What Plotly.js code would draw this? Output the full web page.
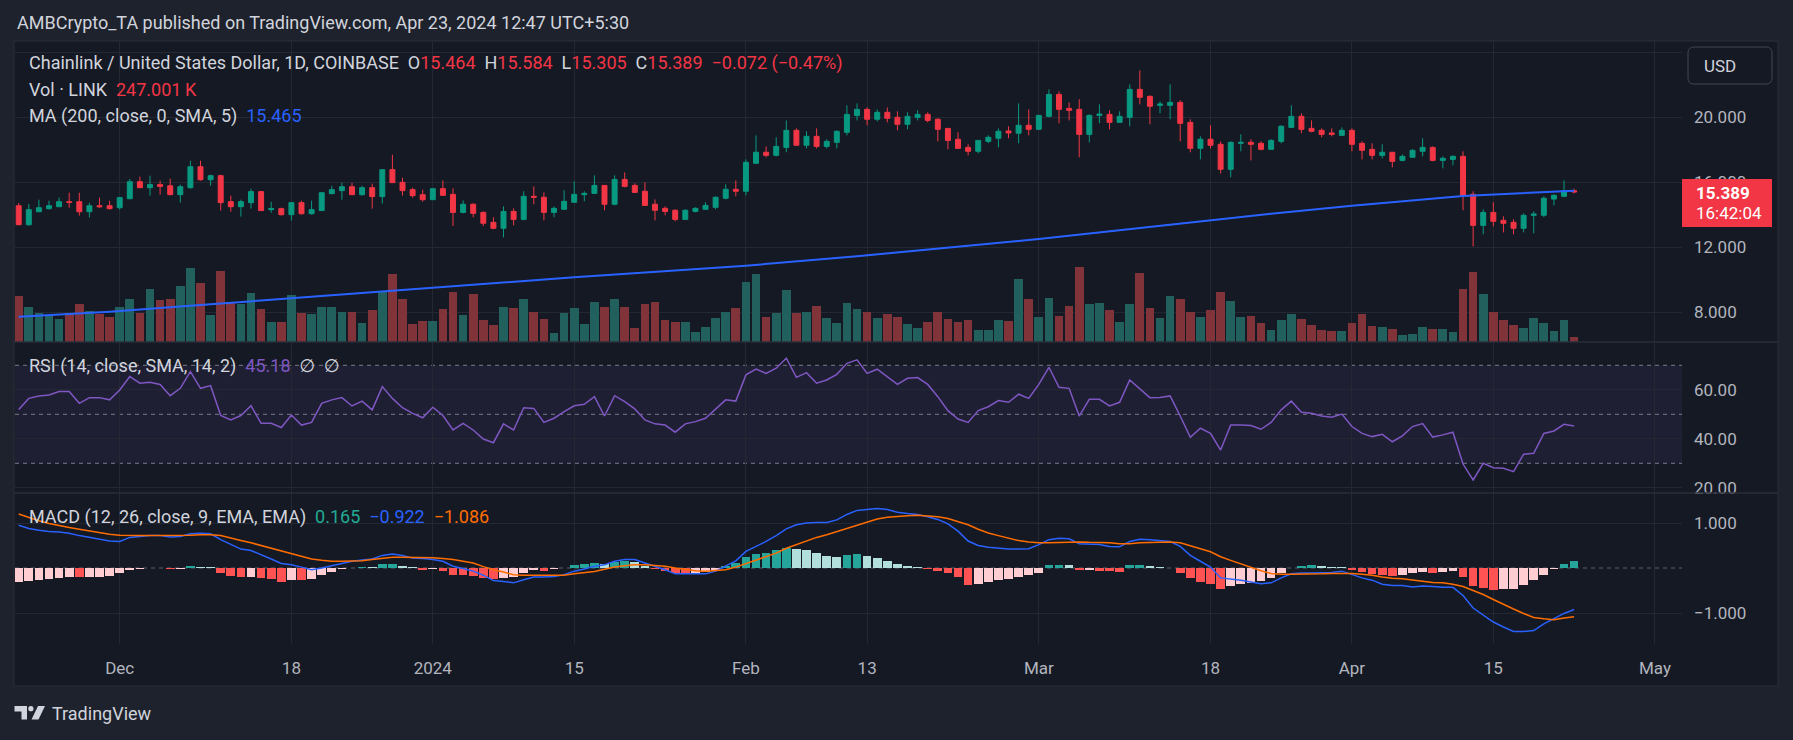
<!DOCTYPE html>
<html>
<head>
<meta charset="utf-8">
<script src="https://cdn.plot.ly/plotly-3.0.1.min.js"></script>
<style>
html,body{margin:0;padding:0;background:#1e222d;}
#chart{width:1793px;height:740px;}
</style>
</head>
<body>
<div id="chart"></div>
<script>
// ---------------- DATA ----------------
const firstDay = '2023-11-21';   // first daily candle
const open = [14.54,13.37,14.17,14.36,14.48,14.79,14.79,14.17,14.54,14.54,
14.42,14.97,16.02,15.65,15.84,15.77,15.22,15.65,16.94,16.14,
16.39,14.79,14.48,14.73,15.41,14.30,14.36,13.99,14.73,14.05,
14.24,15.28,15.47,15.71,15.22,15.65,15.10,16.76,15.98,15.53,
15.22,14.91,15.59,15.24,14.13,14.63,14.13,13.52,13.15,14.19,
13.70,15.12,15.06,14.13,14.32,14.75,15.22,15.30,15.79,14.63,
16.16,15.79,15.43,14.63,14.38,14.26,13.70,14.19,14.32,14.44,
15.00,15.55,15.43,17.15,17.83,17.64,18.13,19.18,18.26,18.81,
18.19,18.44,19.06,20.10,20.47,19.86,20.29,19.98,19.55,19.98,
20.16,19.86,19.30,18.63,18.13,17.89,18.50,18.69,19.14,19.00,
19.49,19.24,20.04,21.39,20.53,20.47,18.93,20.10,20.16,19.67,
19.98,21.70,21.27,20.72,20.72,20.90,19.67,18.07,18.63,18.32,
16.78,18.38,18.44,18.38,18.01,18.50,19.36,20.04,19.30,19.18,
19.02,18.87,19.18,18.38,18.01,17.64,17.83,17.33,17.52,17.89,
18.13,17.33,17.39,17.58,15.24,13.33,14.13,13.64,13.52,13.15,
13.95,13.95,14.95,15.12,15.464];
const high = [14.71,14.65,14.91,14.85,15.04,15.34,15.34,14.73,15.04,14.85,
15.04,16.18,16.33,16.39,16.08,16.21,15.84,17.31,17.31,16.45,
16.45,15.16,14.91,15.59,15.41,14.79,14.42,14.73,14.85,14.85,
15.34,15.77,15.96,15.96,15.77,15.90,16.76,17.68,16.27,15.65,
15.53,15.59,16.10,15.61,14.87,14.69,14.19,13.83,14.50,14.38,
15.43,15.73,15.36,14.50,15.49,16.04,15.43,16.41,15.79,16.41,
16.59,15.92,15.98,14.93,14.50,14.32,14.32,14.44,14.75,15.12,
15.86,16.10,17.39,18.87,18.19,18.75,19.79,19.30,19.12,19.30,
18.63,19.18,20.72,20.84,20.59,20.47,20.59,20.35,20.29,20.41,
20.29,19.92,19.30,19.06,18.32,18.56,18.87,19.30,19.43,20.84,
20.47,20.10,21.70,21.58,20.90,21.09,20.16,20.78,20.41,20.35,
22.01,22.87,21.33,20.96,22.01,21.03,19.86,18.81,19.49,18.50,
18.50,18.93,18.63,18.50,18.63,19.49,20.72,20.23,19.79,19.30,
19.30,19.36,19.30,18.50,18.38,18.32,17.83,17.70,18.01,18.69,
18.19,17.58,17.64,17.89,15.43,14.32,14.75,13.89,13.70,14.07,
14.19,15.12,15.24,16.10,15.584];
const low = [13.35,13.31,14.17,14.30,14.48,14.42,13.93,13.81,14.42,14.30,
14.30,14.97,15.65,15.16,15.22,15.22,14.73,15.59,16.08,15.77,
14.24,14.17,13.87,14.36,14.24,14.11,13.93,13.62,13.99,13.99,
14.24,15.28,14.91,15.22,15.16,14.36,14.67,15.96,15.16,15.04,
14.79,14.91,15.18,13.29,14.07,13.83,13.29,13.09,12.59,13.33,
13.64,14.63,13.64,13.83,14.32,14.75,14.81,15.30,14.26,14.57,
15.67,15.36,14.56,13.64,13.95,13.58,13.70,14.13,14.32,14.32,
14.93,15.12,15.18,17.15,17.52,17.58,17.83,18.26,18.07,18.07,
18.07,18.07,18.87,19.79,19.49,19.73,19.67,19.18,19.24,19.79,
19.67,18.50,18.01,18.07,17.64,17.76,18.38,18.13,18.69,18.38,
18.87,19.24,19.98,19.61,19.79,17.52,18.44,19.61,19.24,19.67,
19.43,20.78,19.55,20.23,19.86,18.50,17.83,17.39,18.07,16.53,
16.29,17.89,17.33,17.95,18.01,18.38,19.36,19.00,19.06,18.75,
18.81,18.87,17.89,17.39,17.39,17.46,16.90,17.27,17.52,17.58,
17.27,16.84,17.03,14.26,12.04,12.78,13.27,12.90,12.78,12.90,
12.84,13.83,14.56,15.06,15.305];
const close = [13.37,14.30,14.42,14.54,14.79,14.75,14.17,14.54,14.48,14.36,
15.04,16.02,15.65,15.84,15.73,15.22,15.71,16.94,16.14,16.39,
14.73,14.48,14.79,15.41,14.24,14.36,13.99,14.73,14.05,14.30,
15.34,15.53,15.71,15.22,15.65,15.10,16.76,15.96,15.47,15.16,
14.91,15.59,15.18,14.13,14.63,14.07,13.46,13.15,14.19,13.70,
15.12,15.06,14.13,14.38,14.81,15.24,15.30,15.79,14.63,16.16,
15.73,15.36,14.56,14.26,14.19,13.70,14.26,14.38,14.56,15.06,
15.55,15.43,17.21,17.83,17.64,18.19,19.18,18.26,18.81,18.19,
18.50,19.12,20.16,20.47,19.86,20.29,19.92,19.55,20.04,20.16,
19.79,19.24,18.56,18.07,17.89,18.56,18.75,19.12,19.02,19.49,
19.24,20.10,21.39,20.47,20.41,18.93,20.10,20.18,19.67,20.04,
21.70,21.21,20.66,20.80,20.90,19.61,18.07,18.63,18.26,16.78,
18.44,18.44,18.32,18.01,18.56,19.43,20.04,19.24,19.12,18.93,
18.93,19.18,18.32,17.95,17.64,17.83,17.27,17.58,17.95,18.13,
17.33,17.46,17.58,15.18,13.33,14.13,13.58,13.46,13.15,13.95,
14.03,15.00,15.18,15.461,15.389];
const volumeK = [2277,1733,1436,1337,1139,1436,1881,1535,1386,1238,
1733,2129,1436,2624,2079,2129,2772,3663,2921,1337,
3515,1980,1881,2426,1634,990,990,2327,1436,1386,
1733,1733,1485,1485,941,1584,2475,3366,2129,891,
1040,1040,1634,2475,1337,2376,1089,842,1733,1683,
2129,1485,1139,446,1436,1683,891,1980,1733,2129,
1733,693,1881,1980,1089,990,990,495,743,1188,
1485,1683,2970,3366,1238,1436,2574,1436,1485,1782,
1188,941,1931,1634,1485,1188,1386,1238,891,693,
990,1485,1139,990,1089,594,594,1089,1040,3119,
2129,1238,2178,1287,1782,3713,1881,1931,1584,990,
1881,3416,1683,1188,2277,2129,1485,1238,1584,2475,
2030,1238,1287,941,594,1089,1386,1139,842,594,
545,545,941,1386,792,743,644,347,396,743,
644,644,495,2624,3465,2376,1485,1089,842,693,
1188,941,545,1089,247.001];
// MA(200) line, read at a few dates along the line
const maDates = ['2023-11-21','2023-11-30','2023-12-10','2023-12-20','2023-12-28','2024-01-01','2024-01-15','2024-02-01','2024-02-12','2024-03-01','2024-03-18','2024-03-24','2024-04-01','2024-04-12','2024-04-23'];
const maValues = [7.71,8.02,8.47,8.94,9.29,9.50,10.14,10.85,11.43,12.49,13.64,14.04,14.54,15.14,15.465];
const rsi = [52.0,56.5,57.5,57.9,59.3,59.3,54.5,56.8,56.8,55.9,
59.9,65.4,62.7,63.1,62.2,57.6,60.6,67.4,60.6,61.7,
49.5,47.7,49.5,53.5,46.3,46.3,44.6,49.7,45.6,46.7,
54.5,55.9,56.8,53.4,55.4,51.8,61.3,56.5,52.7,50.4,
48.6,52.9,49.5,43.6,46.3,43.6,39.9,38.4,46.1,43.6,
52.7,52.4,46.7,48.4,51.1,53.5,54.1,57.2,49.3,57.6,
55.2,52.2,47.7,46.1,45.6,42.7,46.1,47.0,48.4,52.2,
55.9,55.4,66.1,68.5,66.7,68.8,72.9,65.1,67.0,62.7,
64.0,66.3,70.8,72.2,66.7,68.4,65.4,62.2,64.7,65.0,
62.2,57.2,51.5,48.1,46.7,51.5,53.1,55.6,54.9,58.2,
56.5,62.2,69.2,61.0,60.6,49.3,56.1,56.1,53.4,54.9,
64.0,60.3,56.8,56.9,57.5,49.3,40.6,44.3,42.2,35.4,
45.6,45.6,45.4,43.9,46.7,51.8,55.4,50.8,50.4,49.3,
48.8,50.1,45.0,42.2,40.9,41.8,38.8,41.2,45.0,46.2,
40.7,41.6,42.7,29.7,23.2,30.0,28.2,28.0,26.6,33.7,
34.1,42.2,43.2,45.9,45.18];
const macd = [0.95,0.88,0.84,0.81,0.80,0.77,0.72,0.68,0.64,0.60,
0.59,0.68,0.70,0.72,0.72,0.69,0.70,0.76,0.77,0.76,
0.63,0.52,0.42,0.39,0.30,0.20,0.10,0.07,0.02,-0.04,
0.00,0.05,0.11,0.15,0.18,0.20,0.28,0.31,0.28,0.22,
0.21,0.19,0.15,0.04,-0.01,-0.07,-0.16,-0.28,-0.30,-0.33,
-0.26,-0.20,-0.20,-0.19,-0.15,-0.07,-0.02,0.04,0.07,0.15,
0.19,0.19,0.11,0.04,-0.04,-0.13,-0.13,-0.13,-0.13,-0.07,
0.04,0.16,0.37,0.48,0.59,0.72,0.87,0.96,1.00,1.01,
1.01,1.07,1.19,1.28,1.30,1.32,1.30,1.24,1.21,1.19,
1.14,1.08,0.98,0.82,0.60,0.50,0.46,0.44,0.42,0.42,
0.43,0.52,0.63,0.66,0.65,0.54,0.53,0.52,0.48,0.47,
0.59,0.64,0.63,0.61,0.59,0.48,0.28,0.15,0.02,-0.22,
-0.24,-0.27,-0.31,-0.35,-0.33,-0.22,-0.13,-0.11,-0.11,-0.11,
-0.10,-0.07,-0.15,-0.22,-0.27,-0.36,-0.39,-0.39,-0.42,-0.40,
-0.41,-0.43,-0.43,-0.61,-0.89,-1.04,-1.20,-1.31,-1.41,-1.41,
-1.39,-1.24,-1.13,-1.01,-0.922];
const signal = [1.20,1.12,1.05,0.99,0.94,0.90,0.86,0.82,0.78,0.75,
0.73,0.72,0.72,0.72,0.72,0.72,0.72,0.73,0.74,0.74,
0.72,0.66,0.61,0.56,0.50,0.44,0.38,0.31,0.25,0.20,
0.17,0.15,0.15,0.15,0.16,0.19,0.21,0.24,0.24,0.24,
0.24,0.23,0.21,0.19,0.15,0.11,0.03,-0.04,-0.09,-0.15,
-0.16,-0.16,-0.17,-0.17,-0.16,-0.13,-0.11,-0.08,-0.03,0.02,
0.05,0.07,0.07,0.06,0.04,0.00,-0.03,-0.06,-0.07,-0.06,
-0.04,0.02,0.10,0.17,0.26,0.33,0.44,0.52,0.60,0.68,
0.74,0.81,0.88,0.96,1.03,1.09,1.13,1.15,1.16,1.17,
1.16,1.14,1.10,1.03,0.96,0.86,0.78,0.72,0.66,0.61,
0.58,0.56,0.56,0.57,0.58,0.58,0.57,0.57,0.56,0.54,
0.54,0.56,0.57,0.58,0.58,0.56,0.50,0.43,0.36,0.25,
0.17,0.09,0.02,-0.06,-0.12,-0.14,-0.14,-0.14,-0.13,-0.13,
-0.12,-0.12,-0.12,-0.14,-0.16,-0.20,-0.23,-0.24,-0.27,-0.30,
-0.32,-0.33,-0.36,-0.41,-0.50,-0.59,-0.70,-0.81,-0.91,-1.01,
-1.10,-1.13,-1.15,-1.11,-1.086];
const histogram = [-0.30,-0.28,-0.26,-0.24,-0.22,-0.20,-0.21,-0.20,-0.19,-0.17,
-0.11,-0.05,-0.03,-0.01,-0.01,-0.03,-0.03,0.05,0.03,0.03,
-0.10,-0.17,-0.20,-0.19,-0.22,-0.25,-0.30,-0.26,-0.27,-0.25,
-0.16,-0.09,-0.03,0.00,0.02,0.02,0.09,0.10,0.05,0.02,
-0.04,-0.03,-0.06,-0.15,-0.16,-0.18,-0.22,-0.25,-0.22,-0.19,
-0.12,-0.05,-0.06,-0.02,0.01,0.06,0.09,0.12,0.10,0.14,
0.15,0.13,0.05,-0.03,-0.07,-0.11,-0.12,-0.11,-0.09,-0.04,
0.05,0.11,0.24,0.31,0.34,0.39,0.45,0.43,0.40,0.33,
0.27,0.25,0.30,0.32,0.26,0.22,0.16,0.09,0.05,0.02,
-0.02,-0.06,-0.12,-0.21,-0.37,-0.36,-0.32,-0.27,-0.24,-0.19,
-0.16,-0.10,0.06,0.07,0.06,-0.05,-0.04,-0.06,-0.07,-0.08,
0.06,0.07,0.05,0.03,0.01,-0.10,-0.22,-0.30,-0.36,-0.46,
-0.41,-0.36,-0.33,-0.28,-0.22,-0.11,-0.01,0.05,0.06,0.04,
0.03,0.02,-0.04,-0.09,-0.13,-0.16,-0.17,-0.16,-0.12,-0.08,
-0.10,-0.09,-0.07,-0.21,-0.41,-0.44,-0.48,-0.47,-0.46,-0.37,
-0.27,-0.15,-0.02,0.09,0.165];
const timeTickVals = ['2023-12-01','2023-12-18','2024-01-01','2024-01-15','2024-02-01','2024-02-13','2024-03-01','2024-03-18','2024-04-01','2024-04-15','2024-05-01'];
const timeTickText = ['Dec','18','2024','15','Feb','13','Mar','18','Apr','15','May'];
const priceTickVals = [8,12,16,20,24];
const priceTickText = ['8.000','12.000','16.000','20.000',''];
const rsiTickVals = [20,40,60];
const rsiTickText = ['20.00','40.00','60.00'];
const macdTickVals = [-1,1];
const macdTickText = ['\u22121.000','1.000'];
const rsiLevels = [70,50,30];
const lastPriceText = '15.389';
const countdownText = '16:42:04';

// ---------------- BUILD ----------------
const DAY = 86400000;
const t0 = Date.parse(firstDay + 'T00:00:00Z');
const dates = open.map((_, i) => new Date(t0 + i * DAY).toISOString().slice(0, 10));

const W = 1793, H = 740, PL = 15, PR = 1682, PT = 41, PB = 644;
const px = x => (x - PL) / (PR - PL);
const py = y => (PB - y) / (PB - PT);

const FONT = 'Roboto, "Open Sans", "DejaVu Sans", sans-serif';
const TXT = '#d1d4dc', AX = '#b2b5be', GRID = '#242832', BORDER = '#2a2e39';
const UP = '#089981', DN = '#f23645';

const volColors = close.map((c, i) => c >= open[i] ? '#22605e' : '#80343a');
const histColors = histogram.map((v, i) => {
  const p = i > 0 ? histogram[i - 1] : v;
  if (v >= 0) return v > p ? '#26a69a' : '#b2dfdb';
  return v < p ? '#ff5252' : '#ffcdd2';
});

const traces = [
  { type: 'bar', x: dates, y: volumeK, xaxis: 'x', yaxis: 'y', marker: { color: volColors, line: { width: 0 } },
    width: 0.86 * DAY, hoverinfo: 'skip' },
  { type: 'scatter', mode: 'lines', x: maDates, y: maValues, xaxis: 'x', yaxis: 'y2',
    line: { color: '#2962ff', width: 2 }, hoverinfo: 'skip' },
  { type: 'candlestick', x: dates, open: open, high: high, low: low, close: close, xaxis: 'x', yaxis: 'y2',
    increasing: { line: { color: UP, width: 1 }, fillcolor: UP },
    decreasing: { line: { color: DN, width: 1 }, fillcolor: DN },
    whiskerwidth: 0, hoverinfo: 'skip' },
  { type: 'scatter', mode: 'lines', x: dates, y: rsi, xaxis: 'x', yaxis: 'y3',
    line: { color: '#7e57c2', width: 1.5 }, hoverinfo: 'skip' },
  { type: 'bar', x: dates, y: histogram, xaxis: 'x', yaxis: 'y4', marker: { color: histColors, line: { width: 0 } },
    width: 0.86 * DAY, hoverinfo: 'skip' },
  { type: 'scatter', mode: 'lines', x: dates, y: macd, xaxis: 'x', yaxis: 'y4',
    line: { color: '#2962ff', width: 1.5 }, hoverinfo: 'skip' },
  { type: 'scatter', mode: 'lines', x: dates, y: signal, xaxis: 'x', yaxis: 'y4',
    line: { color: '#ff6d00', width: 1.5 }, hoverinfo: 'skip' }
];

function rr(x0, y0, x1, y1, r) {
  const P = (x, y) => px(x) + ',' + py(y);
  return 'M' + P(x0 + r, y0) + ' L' + P(x1 - r, y0) + ' Q' + P(x1, y0) + ' ' + P(x1, y0 + r) +
    ' L' + P(x1, y1 - r) + ' Q' + P(x1, y1) + ' ' + P(x1 - r, y1) + ' L' + P(x0 + r, y1) +
    ' Q' + P(x0, y1) + ' ' + P(x0, y1 - r) + ' L' + P(x0, y0 + r) + ' Q' + P(x0, y0) + ' ' + P(x0 + r, y0) + ' Z';
}
function poly(pts) {
  return 'M' + pts.map(p => px(p[0]) + ',' + py(p[1])).join(' L') + ' Z';
}

const shapes = [
  // chart frame
  { type: 'rect', xref: 'paper', yref: 'paper', x0: px(14), x1: px(1778), y0: py(686), y1: py(41),
    fillcolor: '#151924', line: { color: BORDER, width: 1 }, layer: 'below' },
  // RSI band
  { type: 'rect', xref: 'paper', yref: 'y3', x0: 0, x1: 1, y0: 30, y1: 70,
    fillcolor: 'rgba(126,87,194,0.10)', line: { width: 0 }, layer: 'below' },
  // pane separators
  { type: 'line', xref: 'paper', yref: 'paper', x0: px(14), x1: px(1778), y0: py(342), y1: py(342),
    line: { color: BORDER, width: 1.5 }, layer: 'above' },
  { type: 'line', xref: 'paper', yref: 'paper', x0: px(14), x1: px(1778), y0: py(493), y1: py(493),
    line: { color: BORDER, width: 1.5 }, layer: 'above' },
  // MACD zero
  { type: 'line', xref: 'paper', yref: 'y4', x0: 0, x1: 1, y0: 0, y1: 0,
    line: { color: '#5d606b', width: 1, dash: '4px,4px' }, layer: 'below' },
  // USD box
  { type: 'path', xref: 'paper', yref: 'paper', path: rr(1688, 47, 1772, 84, 6),
    fillcolor: '#151924', line: { color: '#434651', width: 1 }, layer: 'above' },
  // last price label box
  { type: 'rect', xref: 'paper', yref: 'paper', x0: px(1682), x1: px(1772), y0: py(227), y1: py(179),
    fillcolor: '#f23645', line: { width: 0 }, layer: 'above' },
  // TradingView logo
  { type: 'path', xref: 'paper', yref: 'paper', path: poly([[14.5,706],[27,706],[27,719.5],[21.5,719.5],[21.5,711.5],[14.5,711.5]]),
    fillcolor: '#d1d4dc', line: { width: 0 }, layer: 'above' },
  { type: 'circle', xref: 'paper', yref: 'paper', x0: px(28.3), x1: px(33.5), y0: py(711.3), y1: py(706),
    fillcolor: '#d1d4dc', line: { width: 0 }, layer: 'above' },
  { type: 'path', xref: 'paper', yref: 'paper', path: poly([[38,706],[45,706],[38.5,719.5],[31.5,719.5]]),
    fillcolor: '#d1d4dc', line: { width: 0 }, layer: 'above' }
];
rsiLevels.forEach(v => shapes.push({ type: 'line', xref: 'paper', yref: 'y3', x0: 0, x1: 1, y0: v, y1: v,
  line: { color: '#787b86', width: 1, dash: '4px,4px' }, layer: 'below' }));

const red = s => '<span style="color:#f23645">' + s + '</span>';
const sp = '\u00a0\u00a0';
const last = close.length - 1;
const chg = close[last] - close[last - 1];
const chgPct = chg / close[last - 1] * 100;
const fmtS = v => (v < 0 ? '\u2212' : '') + Math.abs(v).toFixed(3);
const legend1 = 'Chainlink / United States Dollar, 1D, COINBASE' + sp +
  'O' + red(open[last].toFixed(3)) + sp + 'H' + red(high[last].toFixed(3)) + sp +
  'L' + red(low[last].toFixed(3)) + sp + 'C' + red(close[last].toFixed(3)) + sp +
  red(fmtS(chg) + ' (' + (chgPct < 0 ? '\u2212' : '') + Math.abs(chgPct).toFixed(2) + '%)');
const legend2 = 'Vol \u00b7 LINK' + sp + red(volumeK[last].toFixed(3) + '\u2009K');
const legend3 = 'MA (200, close, 0, SMA, 5)' + sp + '<span style="color:#2962ff">' + maValues[maValues.length - 1].toFixed(3) + '</span>';
const legendRsi = 'RSI (14, close, SMA, 14, 2)' + sp + '<span style="color:#7e57c2">' + rsi[last].toFixed(2) + '</span>' + sp + '\u2205' + sp + '\u2205';
const legendMacd = 'MACD (12, 26, close, 9, EMA, EMA)' + sp + '<span style="color:#22ab94">' + histogram[last].toFixed(3) + '</span>' + sp +
  '<span style="color:#2962ff">' + fmtS(macd[last]) + '</span>' + sp + '<span style="color:#ff6d00">' + fmtS(signal[last]) + '</span>';

function txt(x, y, text, size, color, extra) {
  return Object.assign({ xref: 'paper', yref: 'paper', x: px(x), y: py(y), text: text, showarrow: false,
    xanchor: 'left', yanchor: 'middle', align: 'left', font: { family: FONT, size: size, color: color } }, extra || {});
}

const annotations = [
  txt(15, 23, 'AMBCrypto_TA published on TradingView.com, Apr 23, 2024 12:47 UTC+5:30', 18, TXT),
  txt(27, 63, legend1, 18, TXT),
  txt(27, 90, legend2, 18, TXT),
  txt(27, 116, legend3, 18, TXT),
  txt(27, 366, legendRsi, 18, TXT),
  txt(27, 517, legendMacd, 18, TXT),
  txt(1702, 66, 'USD', 17, TXT),
  txt(1694, 193, '<b>' + lastPriceText + '</b>', 17, '#ffffff'),
  txt(1694, 213, countdownText, 17, '#ffffff'),
  txt(50, 713.5, 'TradingView', 18, '#d1d4dc')
];

const axFont = { family: FONT, size: 17, color: AX };
const layout = {
  width: W, height: H,
  paper_bgcolor: '#1e222d', plot_bgcolor: 'rgba(0,0,0,0)',
  margin: { l: PL, r: W - PR, t: PT, b: H - PB, pad: 0 },
  showlegend: false, bargap: 0, dragmode: false, hovermode: false,
  font: { family: FONT, color: AX },
  xaxis: {
    type: 'date', anchor: 'y4', domain: [0, 1],
    range: ['2023-11-20 15:13', '2024-05-03 16:19'],
    tickmode: 'array', tickvals: timeTickVals, ticktext: timeTickText,
    tickfont: axFont, ticks: '', showgrid: true, gridcolor: GRID, gridwidth: 1,
    zeroline: false, showline: false, ticklabelstandoff: 12,
    rangeslider: { visible: false }, fixedrange: true
  },
  yaxis: {
    domain: [py(342), 1], range: [0, 14900], visible: false, showgrid: false, zeroline: false, fixedrange: true
  },
  yaxis2: {
    overlaying: 'y', side: 'right', anchor: 'x', range: [6.154, 24.677],
    tickmode: 'array', tickvals: priceTickVals, ticktext: priceTickText, tickfont: axFont,
    ticks: '', showgrid: true, gridcolor: GRID, zeroline: false, showline: false,
    ticklabelstandoff: 11, fixedrange: true
  },
  yaxis3: {
    domain: [py(493), py(342)], anchor: 'x', side: 'right', range: [17.88, 79.51],
    tickmode: 'array', tickvals: rsiTickVals, ticktext: rsiTickText, tickfont: axFont,
    ticks: '', showgrid: true, gridcolor: GRID, zeroline: false, showline: false,
    ticklabelstandoff: 11, fixedrange: true
  },
  yaxis4: {
    domain: [0, py(493)], anchor: 'x', side: 'right', range: [-1.689, 1.667],
    tickmode: 'array', tickvals: macdTickVals, ticktext: macdTickText, tickfont: axFont,
    ticks: '', showgrid: true, gridcolor: GRID, zeroline: false, showline: false,
    ticklabelstandoff: 11, fixedrange: true
  },
  shapes: shapes,
  annotations: annotations
};

Plotly.newPlot('chart', traces, layout, { staticPlot: true, displayModeBar: false });
</script>
</body>
</html>
